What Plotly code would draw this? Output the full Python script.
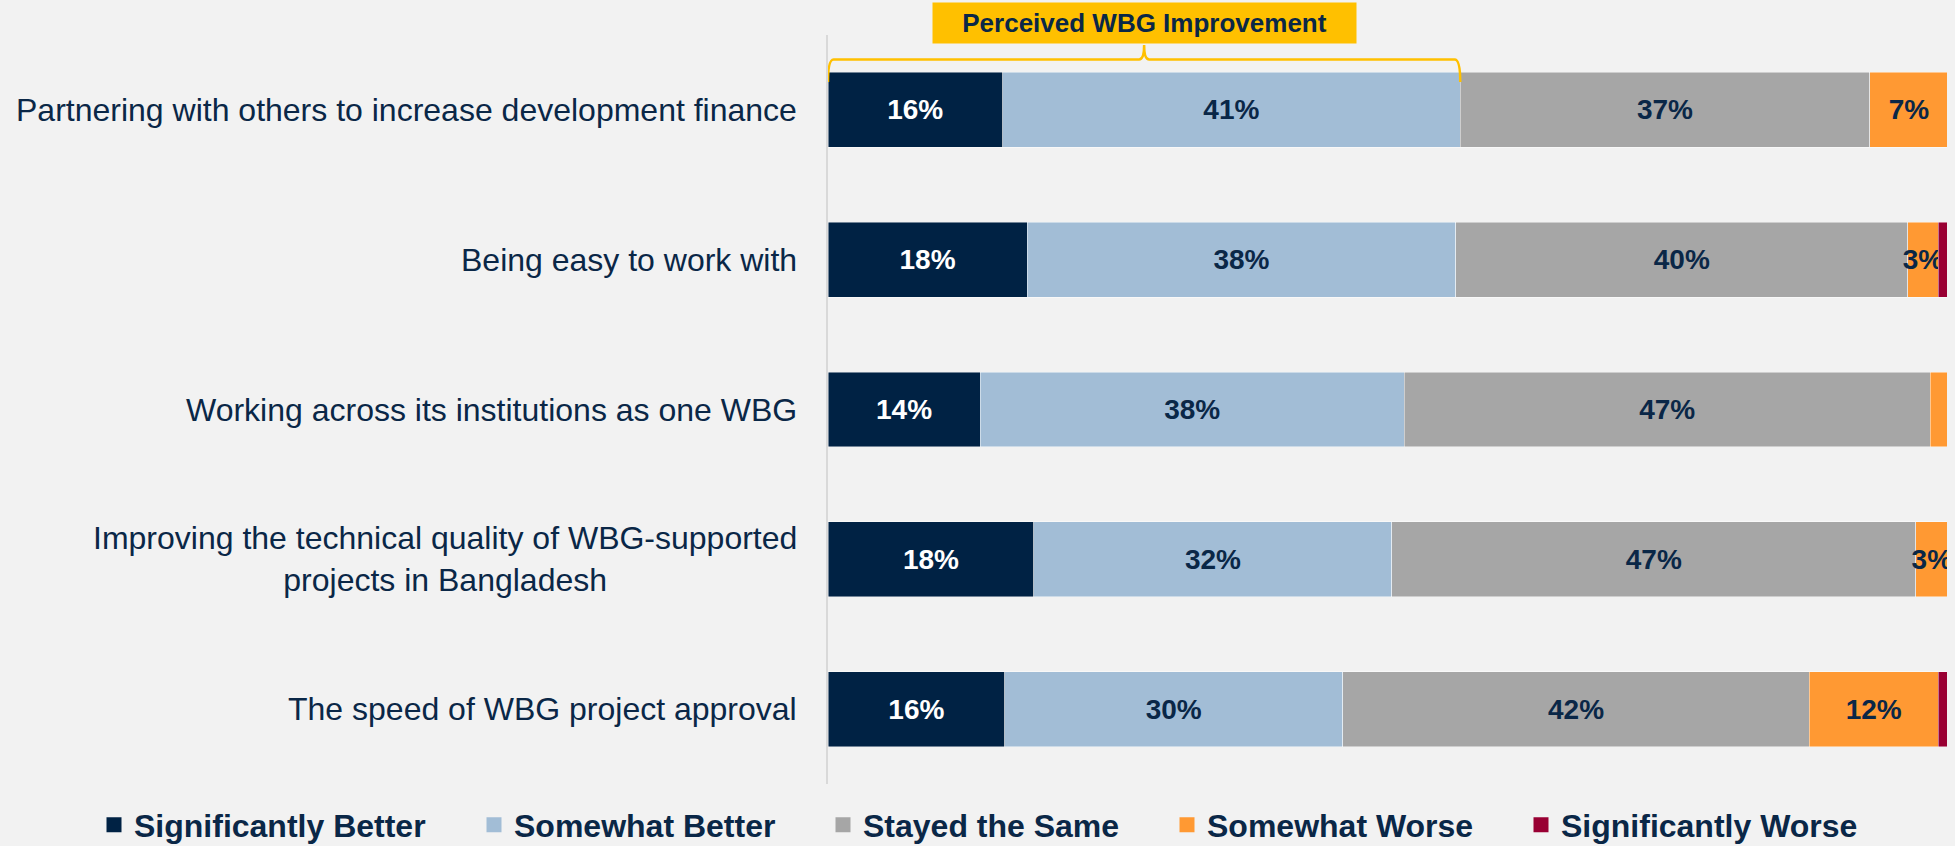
import plotly.graph_objects as go

# ---------------- data ----------------
categories = [
    "Partnering with others to increase development finance",
    "Being easy to work with",
    "Working across its institutions as one WBG",
    "Improving the technical quality of WBG-supported<br>projects in Bangladesh",
    "The speed of WBG project approval",
]
series_names = [
    "Significantly Better",
    "Somewhat Better",
    "Stayed the Same",
    "Somewhat Worse",
    "Significantly Worse",
]
significantly_better = [15.6, 17.8, 13.6, 18.4, 15.8]
somewhat_better = [40.9, 38.3, 37.9, 32.0, 30.2]
stayed_same = [36.6, 40.4, 47.0, 46.8, 41.7]
somewhat_worse = [7.0, 2.7, 1.5, 2.9, 11.5]
significantly_worse = [0.0, 0.8, 0.0, 0.0, 0.8]

bracket_label = "Perceived WBG Improvement"

# ---------------- style ----------------
FONT = "Liberation Sans, Arial, sans-serif"
NAVY = "#0A2747"
BG = "#F2F2F2"
colors = ["#002244", "#A2BDD6", "#A6A6A6", "#FF9933", "#990033"]
text_colors = ["#FFFFFF", NAVY, NAVY, NAVY, NAVY]
show_labels = [True, True, True, True, False]
legend_widths = [335, 304, 299, 309, 300]

all_series = [significantly_better, somewhat_better, stayed_same,
              somewhat_worse, significantly_worse]

W, H = 1955, 846
M_L, M_R, M_T, M_B = 828, 8, 35, 62
plot_h = H - M_T - M_B

fig = go.Figure()
for name, vals, col, tcol, show in zip(series_names, all_series, colors,
                                       text_colors, show_labels):
    labels = [f"{round(v)}%" if (show and v >= 2) else "" for v in vals]
    fig.add_trace(go.Bar(
        name=name,
        y=categories,
        x=vals,
        orientation="h",
        marker=dict(color=col, line=dict(color="rgba(255,255,255,0.6)", width=0.75)),
        text=labels,
        textposition="inside",
        insidetextanchor="middle",
        textangle=0,
        textfont=dict(family=FONT, size=28, color=tcol, weight="bold"),
        hoverinfo="skip",
        showlegend=False,
        legendgroup=name,
    ))

# legend entries with larger square symbols
for name, col, lw in zip(series_names, colors, legend_widths):
    fig.add_trace(go.Scatter(
        name=name, x=[None], y=[None], mode="markers",
        marker=dict(symbol="square", size=15, color=col),
        legendgroup=name, legendwidth=lw, hoverinfo="skip",
    ))

# category labels as annotations (centered multi-line text, right aligned block)
annotations = []
for cat in categories:
    annotations.append(dict(
        x=0, xref="paper", xanchor="right", xshift=-29,
        y=cat, yref="y", yanchor="middle",
        text=cat, showarrow=False, align="center",
        font=dict(family=FONT, size=32, color=NAVY),
    ))

# bracket over perceived improvement (first row)
improve_end = significantly_better[0] + somewhat_better[0]
center = improve_end / 2


def py(px):
    return (H - M_B - px) / plot_h


y_end, y_h, y_pk = py(82), py(59.5), py(45)
path = (
    f"M 0,{y_end} Q 0,{y_h} 0.5,{y_h} "
    f"L {center - 0.45},{y_h} Q {center},{y_h} {center},{y_pk} "
    f"Q {center},{y_h} {center + 0.45},{y_h} "
    f"L {improve_end - 0.5},{y_h} Q {improve_end},{y_h} {improve_end},{y_end}"
)
shapes = [dict(type="path", xref="x", yref="paper", path=path,
               line=dict(color="#FFC000", width=2.5), layer="above")]

annotations.append(dict(
    x=center, xref="x", xanchor="center",
    y=1, yref="paper", yanchor="bottom", yshift=-9,
    text=f"<b>{bracket_label}</b>", showarrow=False,
    bgcolor="#FFC000", width=415, height=32, borderpad=4, valign="middle",
    font=dict(family=FONT, size=26, color=NAVY),
))

fig.update_layout(
    width=W, height=H,
    margin=dict(l=M_L, r=M_R, t=M_T, b=M_B, pad=0, autoexpand=False),
    barmode="stack",
    bargap=0.5,
    paper_bgcolor=BG,
    plot_bgcolor=BG,
    showlegend=True,
    legend=dict(
        orientation="h",
        x=(94 - M_L) / (W - M_L - M_R), xanchor="left",
        y=-(825 - (H - M_B)) / plot_h, yanchor="middle",
        font=dict(family=FONT, size=32, color=NAVY, weight="bold"),
        bgcolor="rgba(0,0,0,0)",
        traceorder="normal",
        itemsizing="trace",
    ),
    uniformtext=dict(minsize=28, mode="show"),
    xaxis=dict(range=[0, 100], visible=False, fixedrange=True),
    yaxis=dict(
        type="category",
        categoryorder="array",
        categoryarray=categories[::-1],
        showticklabels=False,
        showline=True, linecolor="#D9D9D9", linewidth=2,
        showgrid=False, zeroline=False, ticks="",
        fixedrange=True,
    ),
    annotations=annotations,
    shapes=shapes,
    font=dict(family=FONT, color=NAVY),
)

fig.write_html("out.html", config={"displayModeBar": False},
               post_script="document.body.style.margin='0';")
